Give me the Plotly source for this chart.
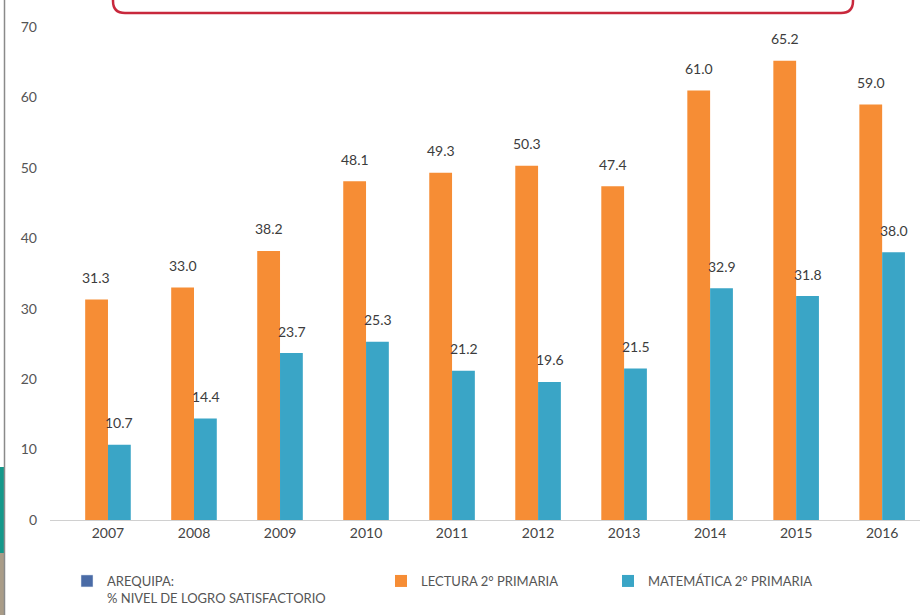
import plotly.graph_objects as go

years = ["2007", "2008", "2009", "2010", "2011", "2012", "2013", "2014", "2015", "2016"]
lectura = [31.3, 33.0, 38.2, 48.1, 49.3, 50.3, 47.4, 61.0, 65.2, 59.0]
matematica = [10.7, 14.4, 23.7, 25.3, 21.2, 19.6, 21.5, 32.9, 31.8, 38.0]
region_empty = [None] * len(years)
y_ticks = [0, 10, 20, 30, 40, 50, 60, 70]

name_region = "AREQUIPA:<br>% NIVEL DE LOGRO SATISFACTORIO"
name_lect = "LECTURA 2° PRIMARIA"
name_mat = "MATEMÁTICA 2° PRIMARIA"

ORANGE = "#F68D35"
BLUE = "#3AA5C6"
FONT = "Lato"

W, H = 920, 615
L, R, T, B = 50, 0, 27, 95
PW, PH = W - L - R, H - T - B


def px_x(p):
    return (p - L) / PW


def px_y(p):
    return (H - B - p) / PH


fig = go.Figure()
fig.add_trace(go.Bar(x=years, y=region_empty, name=name_region, marker_color="#4A6BA6",
                     offsetgroup="a", legend="legend", showlegend=True))
fig.add_trace(go.Bar(x=years, y=lectura, name=name_lect, marker_color=ORANGE,
                     marker_line_width=0, offsetgroup="a", legend="legend2"))
fig.add_trace(go.Bar(x=years, y=matematica, name=name_mat, marker_color=BLUE,
                     marker_line_width=0, offsetgroup="b", legend="legend3"))

# value labels (x given as category index)
for i, v in enumerate(lectura):
    fig.add_annotation(x=i, y=v, text=f"{v:.1f}", showarrow=False, xref="x", yref="y",
                       xshift=-11.5, yshift=22,
                       font=dict(family=FONT, size=14, color="#3c3c3c"))
for i, v in enumerate(matematica):
    fig.add_annotation(x=i, y=v, text=f"{v:.1f}", showarrow=False, xref="x", yref="y",
                       xshift=11.5, yshift=22,
                       font=dict(family=FONT, size=14, color="#3c3c3c"))

# top red rounded box (cropped in original)
x0, x1 = px_x(113), px_x(853)
y0, y1 = px_y(13), px_y(-20)
rx, ry = 12 / PW, 12 / PH
path = (f"M {x0},{y1} L {x0},{y0+ry} Q {x0},{y0} {x0+rx},{y0} "
        f"L {x1-rx},{y0} Q {x1},{y0} {x1},{y0+ry} L {x1},{y1}")
fig.add_shape(type="path", path=path, xref="paper", yref="paper",
              line=dict(color="#C8283C", width=2.5))

# left edge strip
fig.add_shape(type="rect", xref="paper", yref="paper",
              x0=px_x(0), x1=px_x(4), y0=px_y(553), y1=px_y(467),
              fillcolor="#14988A", line_width=0, layer="above")
fig.add_shape(type="rect", xref="paper", yref="paper",
              x0=px_x(0), x1=px_x(4), y0=px_y(615), y1=px_y(553),
              fillcolor="#A99C88", line_width=0, layer="above")
fig.add_shape(type="line", xref="paper", yref="paper",
              x0=px_x(4.5), x1=px_x(4.5), y0=px_y(615), y1=px_y(0),
              line=dict(color="#8a8a8a", width=1.5))

legend_common = dict(orientation="v", yanchor="top", xanchor="left", valign="top",
                     font=dict(family=FONT, size=13, color="#555555"),
                     bgcolor="rgba(0,0,0,0)")

fig.update_layout(
    width=W, height=H,
    margin=dict(l=L, r=R, t=T, b=B, autoexpand=False),
    paper_bgcolor="white", plot_bgcolor="white",
    showlegend=True,
    barmode="group", bargap=0.47, bargroupgap=0,
    font=dict(family=FONT, size=14, color="#555555"),
    legend=dict(x=px_x(67), y=px_y(566), **legend_common),
    legend2=dict(x=px_x(381), y=px_y(566), **legend_common),
    legend3=dict(x=px_x(608), y=px_y(566), **legend_common),
    xaxis=dict(type="category", range=[-0.674, 9.44], showgrid=False,
               showline=True, linecolor="#d0d0d0", linewidth=1,
               tickfont=dict(family=FONT, size=14, color="#444444"),
               ticks=""),
    yaxis=dict(range=[0, 70], tickvals=y_ticks, showgrid=False, zeroline=False,
               showline=False, ticks="", ticklabelstandoff=12,
               tickfont=dict(family=FONT, size=14, color="#555555")),
)

fig.write_html("out.html", config={"displayModeBar": False},
               post_script="document.body.style.margin='0';")
